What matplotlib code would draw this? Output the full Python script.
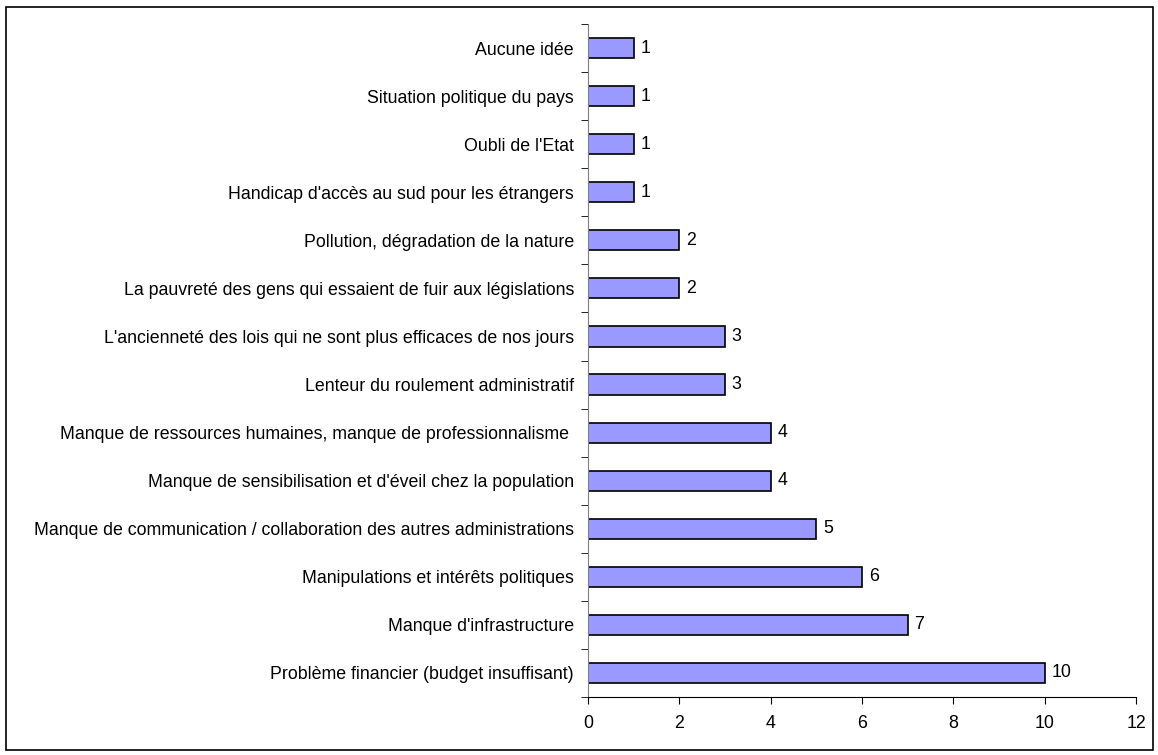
import matplotlib.pyplot as plt
import numpy as np
from matplotlib.patches import Rectangle

plt.rcParams['font.family'] = ['Liberation Sans', 'DejaVu Sans']

categories = [
    "Problème financier (budget insuffisant)",
    "Manque d'infrastructure",
    "Manipulations et intérêts politiques",
    "Manque de communication / collaboration des autres administrations",
    "Manque de sensibilisation et d'éveil chez la population",
    "Manque de ressources humaines, manque de professionnalisme ",
    "Lenteur du roulement administratif",
    "L'ancienneté des lois qui ne sont plus efficaces de nos jours",
    "La pauvreté des gens qui essaient de fuir aux législations",
    "Pollution, dégradation de la nature",
    "Handicap d'accès au sud pour les étrangers",
    "Oubli de l'Etat",
    "Situation politique du pays",
    "Aucune idée",
]
counts = [10, 7, 6, 5, 4, 4, 3, 3, 2, 2, 1, 1, 1, 1]
xticks = [0, 2, 4, 6, 8, 10, 12]

fs = 12.8

fig = plt.figure(figsize=(11.58, 7.55), dpi=100)
ax = fig.add_axes([588 / 1158, 1 - 697 / 755, (1136 - 588) / 1158, (697 - 24) / 755])

y = np.arange(len(categories))
ax.barh(y, counts, height=0.42, color='#9999FF', edgecolor='black', linewidth=1.2)
for yi, v in zip(y, counts):
    ax.text(v + 0.15, yi, str(v), va='center', ha='left', fontsize=fs)

ax.set_ylim(-0.5, len(categories) - 0.5)
ax.set_xlim(0, 12)
ax.set_xticks(xticks)
ax.set_yticks(y)
ax.set_yticklabels(categories, fontsize=fs)
ax.set_yticks(np.arange(-0.5, len(categories), 1), minor=True)
ax.tick_params(axis='y', which='major', length=0, pad=10)
ax.tick_params(axis='y', which='minor', length=5, color='black')
ax.tick_params(axis='x', length=5, labelsize=fs, pad=8)

for s in ['top', 'right']:
    ax.spines[s].set_visible(False)
ax.spines['left'].set_color('#808080')
ax.spines['bottom'].set_color('black')

fig.patches.append(Rectangle((6 / 1158, 1 - 750 / 755), 1147 / 1158, 743 / 755,
                             transform=fig.transFigure, fill=False,
                             edgecolor='black', linewidth=1.2))

fig.savefig('out.png', dpi=100)
